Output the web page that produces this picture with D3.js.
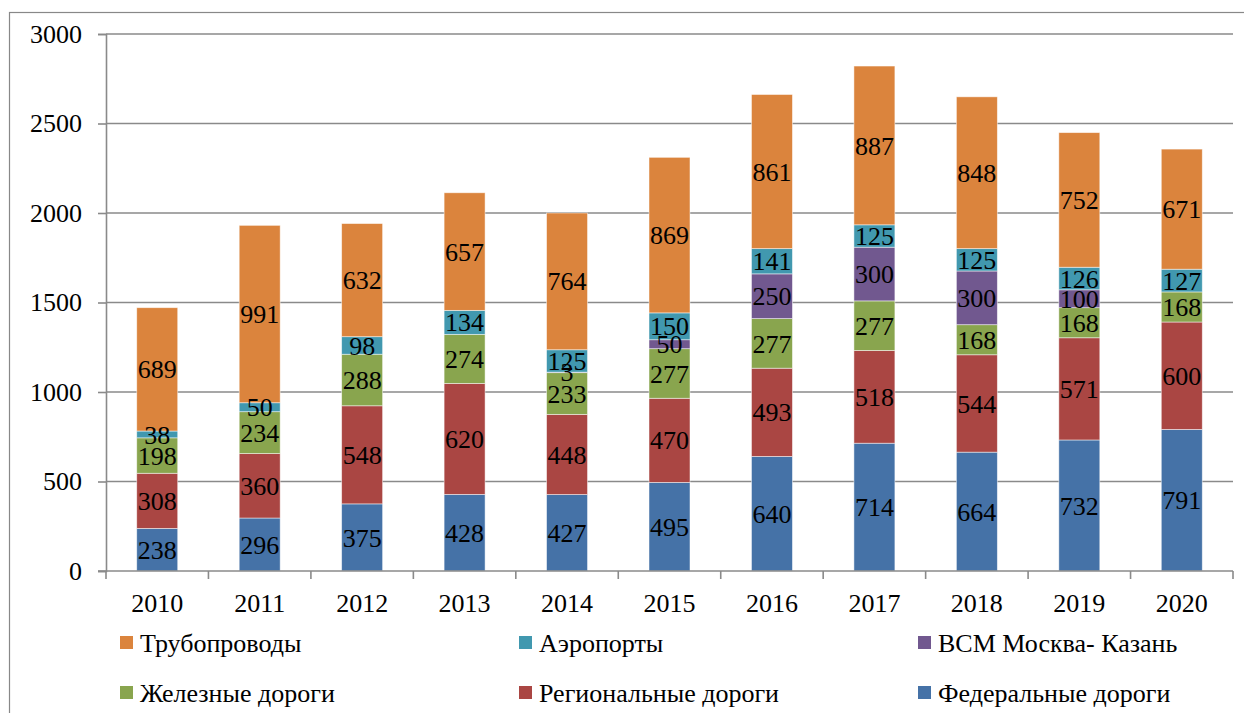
<!DOCTYPE html>
<html>
<head>
<meta charset="utf-8">
<style>
  body { margin: 0; background: #fff; }
</style>
</head>
<body>
<svg width="1244" height="713"></svg>
<script src="https://d3js.org/d3.v7.min.js"></script>
<script>
var years = ["2010","2011","2012","2013","2014","2015","2016","2017","2018","2019","2020"];
var federal  = [238, 296, 375, 428, 427, 495, 640, 714, 664, 732, 791];
var regional = [308, 360, 548, 620, 448, 470, 493, 518, 544, 571, 600];
var railways = [198, 234, 288, 274, 233, 277, 277, 277, 168, 168, 168];
var hsr      = [0, 0, 0, 0, 3, 50, 250, 300, 300, 100, 0];
var airports = [38, 50, 98, 134, 125, 150, 141, 125, 125, 126, 127];
var pipes    = [689, 991, 632, 657, 764, 869, 861, 887, 848, 752, 671];
var yTicks = [0, 500, 1000, 1500, 2000, 2500, 3000];

var series = [
  {name: "Федеральные дороги", values: federal, color: "#4572A7"},
  {name: "Региональные дороги", values: regional, color: "#AA4643"},
  {name: "Железные дороги", values: railways, color: "#89A54E"},
  {name: "ВСМ Москва- Казань", values: hsr, color: "#71588F"},
  {name: "Аэропорты", values: airports, color: "#4198AF"},
  {name: "Трубопроводы", values: pipes, color: "#DB843D"}
];
// legend order as in the picture
var legendOrder = [5, 4, 3, 2, 1, 0];

var svg = d3.select("svg");
var plotL = 106, plotR = 1233, plotT = 34, plotB = 571;
var FONT = "'Liberation Serif', 'Times New Roman', serif";
var FS = 26;

// outer frame
svg.append("rect").attr("x", 9.5).attr("y", 12.5).attr("width", 1240).attr("height", 710)
  .attr("fill", "none").attr("stroke", "#888").attr("stroke-width", 1.2);

var x = d3.scaleBand().domain(years).range([plotL, plotR]).paddingInner(0.6).paddingOuter(0.3);
var xb = d3.scaleBand().domain(years).range([plotL, plotR]);
var y = d3.scaleLinear().domain([0, 3000]).range([plotB, plotT]);

// gridlines
svg.append("g").selectAll("line").data(yTicks.filter(function(d){ return d > 0; })).enter().append("line")
  .attr("x1", plotL).attr("x2", plotR)
  .attr("y1", function(d){ return y(d); }).attr("y2", function(d){ return y(d); })
  .attr("stroke", "#8a8a8a").attr("stroke-width", 1.6);

// stack
var table = years.map(function(yr, i){
  var row = {year: yr};
  series.forEach(function(s, k){ row["s" + k] = s.values[i]; });
  return row;
});
var stack = d3.stack().keys(series.map(function(s, k){ return "s" + k; }));
var layers = stack(table);

var g = svg.append("g");
layers.forEach(function(layer, k){
  g.append("g").selectAll("rect").data(layer).enter().append("rect")
    .attr("x", function(d){ return x(d.data.year); })
    .attr("width", x.bandwidth())
    .attr("y", function(d){ return y(d[1]); })
    .attr("height", function(d){ return y(d[0]) - y(d[1]); })
    .attr("fill", series[k].color)
    .attr("stroke", "rgba(255,255,255,0.6)").attr("stroke-width", 0.8);
});
layers.forEach(function(layer, k){
  g.append("g").selectAll("text").data(layer.filter(function(d){ return d[1] - d[0] > 0; })).enter().append("text")
    .attr("x", function(d){ return x(d.data.year) + x.bandwidth() / 2; })
    .attr("y", function(d){ return y((d[0] + d[1]) / 2); })
    .attr("dy", "0.35em")
    .attr("text-anchor", "middle")
    .style("font-family", FONT)
    .style("font-size", FS + "px")
    .attr("fill", "#000")
    .text(function(d){ return d[1] - d[0]; });
});

// y axis
var yAxis = svg.append("g").attr("transform", "translate(" + plotL + ",0)")
  .call(d3.axisLeft(y).tickValues(yTicks).tickFormat(d3.format("d")).tickSize(8).tickPadding(16));
yAxis.select(".domain").attr("stroke", "#8a8a8a").attr("stroke-width", 1.6);
yAxis.selectAll(".tick line").attr("stroke", "#8a8a8a").attr("stroke-width", 1.6);
yAxis.selectAll("text").style("font-size", FS + "px").style("font-family", FONT).attr("fill", "#000");

// x axis
var xAxis = svg.append("g").attr("transform", "translate(0," + plotB + ")");
xAxis.append("line").attr("x1", plotL - 8).attr("x2", plotR).attr("y1", 0).attr("y2", 0)
  .attr("stroke", "#8a8a8a").attr("stroke-width", 1.6);
xAxis.selectAll("line.tk").data(years.concat(["end"])).enter().append("line")
  .attr("class", "tk")
  .attr("x1", function(d, i){ return plotL + i * xb.step(); })
  .attr("x2", function(d, i){ return plotL + i * xb.step(); })
  .attr("y1", 0).attr("y2", 8)
  .attr("stroke", "#8a8a8a").attr("stroke-width", 1.6);
xAxis.selectAll("text").data(years).enter().append("text")
  .attr("x", function(d){ return xb(d) + xb.bandwidth() / 2; })
  .attr("y", 41)
  .attr("text-anchor", "middle")
  .style("font-family", FONT)
  .style("font-size", FS + "px")
  .text(function(d){ return d; });

// legend
var legX = [120, 519, 918], legY = [643, 693];
var legend = svg.append("g");
legendOrder.forEach(function(k, i){
  var lx = legX[i % 3], ly = legY[Math.floor(i / 3)];
  legend.append("rect").attr("x", lx).attr("y", ly - 7).attr("width", 13).attr("height", 13)
    .attr("fill", series[k].color);
  legend.append("text").attr("x", lx + 20).attr("y", ly).attr("dy", "0.35em")
    .style("font-family", FONT)
    .style("font-size", FS + "px").text(series[k].name);
});
</script>
</body>
</html>
